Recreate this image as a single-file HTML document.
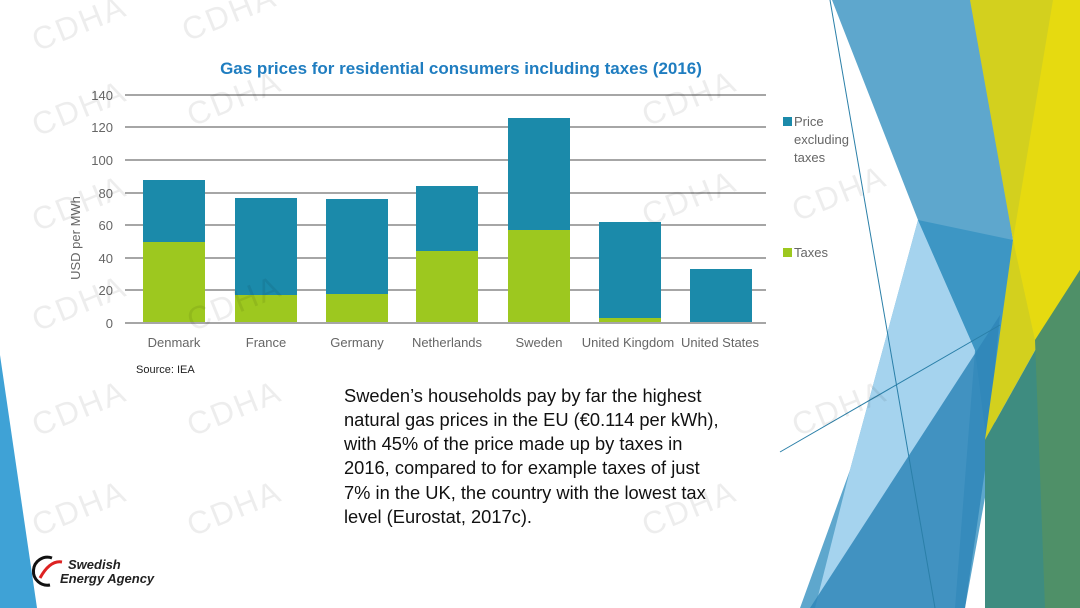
<!DOCTYPE html>
<html><head><meta charset="utf-8"><style>
body{margin:0;width:1080px;height:608px;overflow:hidden;background:#fff;font-family:"Liberation Sans",sans-serif;position:relative}
.wm{position:absolute;font-size:32px;color:rgba(0,0,0,0.07);transform:rotate(-22deg);letter-spacing:2px}
</style></head><body>
<svg width="1080" height="608" style="position:absolute;left:0;top:0">
<polygon points="0,355 0,608 37,608" fill="#3fa2d6"/>
<polygon points="832,0 977,0 1013,240 990,470 965,608 800,608 850,470 918,220" fill="#5ea7cd"/>
<polygon points="918,220 975,350 955,608 815,608 850,470" fill="#a5d3ee"/>
<polygon points="918,220 1013,240 990,470 975,350" fill="#3d96c4"/>
<polygon points="1000,315 985,470 965,608 810,608" fill="#2f86b8" opacity="0.85"/>
<polygon points="970,0 1080,0 1080,270 985,440 1013,240" fill="#d3d01e"/>
<polygon points="1053,0 1080,0 1080,270 1035,340 1013,240" fill="#e6da10"/>
<polygon points="1080,270 1080,608 985,608 985,440" fill="#3e8c80"/>
<polygon points="1080,270 1080,608 1045,608 1035,340" fill="#4f9068"/>
<line x1="830" y1="0" x2="935" y2="608" stroke="#2a7fa8" stroke-width="1"/>
<line x1="780" y1="452" x2="1000" y2="325" stroke="#2a7fa8" stroke-width="1"/>
<g stroke="#a6a6a6" stroke-width="2">
<line x1="125" y1="95" x2="766" y2="95"/><line x1="125" y1="127" x2="766" y2="127"/>
<line x1="125" y1="160" x2="766" y2="160"/><line x1="125" y1="193" x2="766" y2="193"/>
<line x1="125" y1="225" x2="766" y2="225"/><line x1="125" y1="258" x2="766" y2="258"/>
<line x1="125" y1="290" x2="766" y2="290"/>
</g>
<g fill="#1b8aaa">
<rect x="143" y="180" width="62" height="143"/>
<rect x="235" y="198" width="62" height="125"/>
<rect x="326" y="199" width="62" height="124"/>
<rect x="416" y="186" width="62" height="137"/>
<rect x="508" y="118" width="62" height="205"/>
<rect x="599" y="222" width="62" height="101"/>
<rect x="690" y="269" width="62" height="54"/>
</g>
<g fill="#9dc81f">
<rect x="143" y="242" width="62" height="81"/>
<rect x="235" y="295" width="62" height="28"/>
<rect x="326" y="294" width="62" height="29"/>
<rect x="416" y="251" width="62" height="72"/>
<rect x="508" y="230" width="62" height="93"/>
<rect x="599" y="318" width="62" height="5"/>
</g>
<line x1="125" y1="323" x2="766" y2="323" stroke="#a6a6a6" stroke-width="2"/>
<g font-size="13" fill="#666" text-anchor="end" font-family="Liberation Sans">
<text x="113" y="100">140</text><text x="113" y="132">120</text><text x="113" y="165">100</text>
<text x="113" y="198">80</text><text x="113" y="230">60</text><text x="113" y="263">40</text>
<text x="113" y="295">20</text><text x="113" y="328">0</text>
</g>
<g font-size="13" fill="#666" text-anchor="middle">
<text x="174" y="347">Denmark</text><text x="266" y="347">France</text><text x="357" y="347">Germany</text>
<text x="447" y="347">Netherlands</text><text x="539" y="347">Sweden</text><text x="628" y="347">United Kingdom</text><text x="720" y="347">United States</text>
</g>
<text transform="translate(80,238) rotate(-90)" font-size="13" fill="#666" text-anchor="middle">USD per MWh</text>
<rect x="783" y="117" width="9" height="9" fill="#1b8aaa"/>
<rect x="783" y="248" width="9" height="9" fill="#9dc81f"/>
<g font-size="13" fill="#666"><text x="794" y="126">Price</text><text x="794" y="144">excluding</text><text x="794" y="162">taxes</text><text x="794" y="257">Taxes</text></g>
<text x="461" y="74" font-size="17" font-weight="bold" fill="#1f7dc0" text-anchor="middle">Gas prices for residential consumers including taxes (2016)</text>
<text x="136" y="373" font-size="11" fill="#222">Source: IEA</text>
<g font-size="18.3" fill="#111">
<text x="344" y="402">Sweden’s households pay by far the highest</text>
<text x="344" y="426">natural gas prices in the EU (€0.114 per kWh),</text>
<text x="344" y="450">with 45% of the price made up by taxes in</text>
<text x="344" y="474">2016, compared to for example taxes of just</text>
<text x="344" y="499">7% in the UK, the country with the lowest tax</text>
<text x="344" y="523">level (Eurostat, 2017c).</text>
</g>
<path d="M52,558 A14,14 0 1 0 50,585" stroke="#111" stroke-width="3" fill="none"/>
<path d="M40,578 Q50,560 62,562" stroke="#d22" stroke-width="3" fill="none"/>
<text x="68" y="569" font-size="13" font-style="italic" font-weight="bold" fill="#222">Swedish</text>
<text x="60" y="583" font-size="13" font-style="italic" font-weight="bold" fill="#222">Energy Agency</text>
</svg>
<div class="wm" style="left:30px;top:5px">CDHA</div><div class="wm" style="left:180px;top:-5px">CDHA</div>
<div class="wm" style="left:30px;top:90px">CDHA</div><div class="wm" style="left:185px;top:80px">CDHA</div><div class="wm" style="left:640px;top:80px">CDHA</div>
<div class="wm" style="left:30px;top:185px">CDHA</div><div class="wm" style="left:640px;top:180px">CDHA</div><div class="wm" style="left:790px;top:175px">CDHA</div>
<div class="wm" style="left:30px;top:285px">CDHA</div><div class="wm" style="left:185px;top:285px">CDHA</div>
<div class="wm" style="left:30px;top:390px">CDHA</div><div class="wm" style="left:185px;top:390px">CDHA</div><div class="wm" style="left:790px;top:390px">CDHA</div>
<div class="wm" style="left:30px;top:490px">CDHA</div><div class="wm" style="left:185px;top:490px">CDHA</div><div class="wm" style="left:640px;top:490px">CDHA</div>
</body></html>
